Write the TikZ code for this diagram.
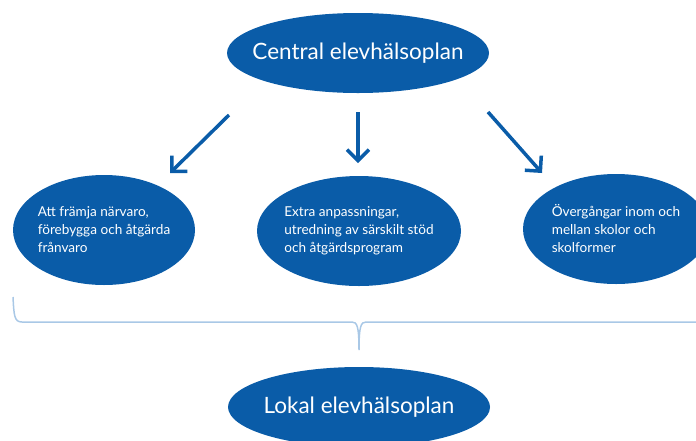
\documentclass[tikz,border=0pt]{standalone}
\usepackage{fontspec}
\setmainfont{Lato}
\usetikzlibrary{arrows.meta,shapes.geometric}
\definecolor{ebl}{HTML}{0A5CA8}
\definecolor{brc}{HTML}{A9C8E6}
\begin{document}
\begin{tikzpicture}[x=1pt,y=-1pt,
  ell/.style={ellipse,fill=ebl,draw=none,inner sep=0pt},
  bigell/.style={ell,minimum width=262pt,minimum height=80pt},
  smallell/.style={ell,minimum width=182pt,minimum height=110pt},
  bigtxt/.style={text=white,inner sep=0pt,font=\fontsize{22.5}{26}\selectfont},
  smalltxt/.style={text=white,inner sep=0pt,align=left,font=\fontsize{13.6}{18}\selectfont},
  arr/.style={draw=ebl,line width=3.5pt,-{Straight Barb[length=11pt,width=22pt,line width=3.5pt]}},
  bracel/.style={draw=brc,line width=1.5pt}]
\useasboundingbox (0,0) rectangle (696,440);
\clip (0,0) rectangle (696,440);
\node[bigell,label={[bigtxt]center:Central elevhälsoplan}] (central) at (358,53) {};
\node[smallell,label={[smalltxt]center:{Att främja närvaro,\\förebygga och åtgärda\\frånvaro}}] (narvaro) at (104,230) {};
\node[smallell,minimum width=204pt,label={[smalltxt]center:{Extra anpassningar,\\utredning av särskilt stöd\\och åtgärdsprogram}}] (extra) at (359,231) {};
\node[smallell,minimum width=186pt,label={[smalltxt]center:{Övergångar inom och\\mellan skolor och\\skolformer}}] (overgang) at (616,229) {};
\node[bigell,label={[bigtxt]center:Lokal elevhälsoplan}] (lokal) at (359,407) {};
\coordinate (a1s) at (229,115); \coordinate (a1e) at (170,173);
\coordinate (a2s) at (358,112); \coordinate (a2e) at (358,163);
\coordinate (a3s) at (488,112); \coordinate (a3e) at (542,173);
\draw[arr] (a1s) -- (a1e);
\draw[arr] (a2s) -- (a2e);
\draw[arr] (a3s) -- (a3e);
\coordinate (bl) at (13,297);
\coordinate (bt) at (359,350);
\coordinate (br) at (700,322);
\draw[bracel] (bl) .. controls (14,315) and (14,322) .. (22,322) -- (352,322)
  .. controls (357,322) and (359,326) .. (bt)
  .. controls (359,326) and (361,322) .. (366,322) -- (br);
\end{tikzpicture}
\end{document}
